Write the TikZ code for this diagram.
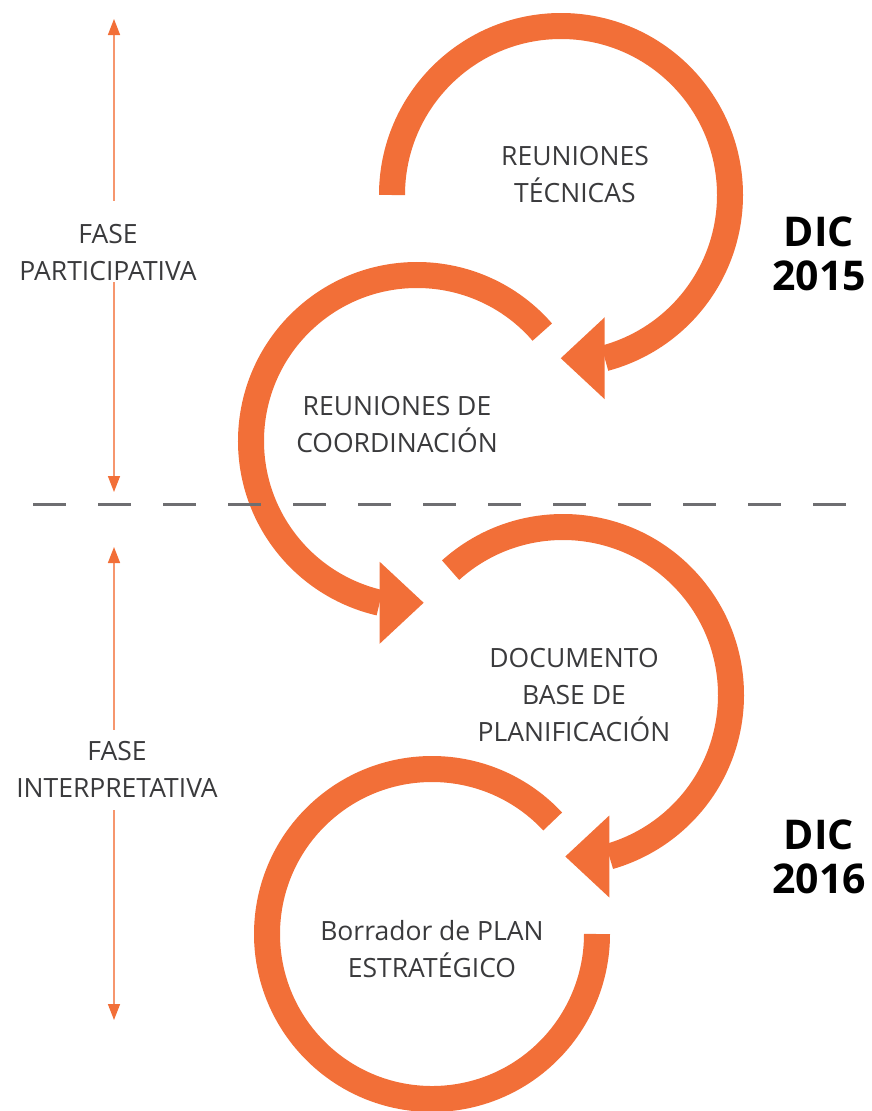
\documentclass[tikz,border=0pt]{standalone}
\usepackage{fontspec}
\setmainfont{Open Sans}
\usepackage{xcolor}
\usepackage{tikz}
\usetikzlibrary{arrows.meta}
\definecolor{naranja}{RGB}{242,111,56}
\definecolor{naranjaclaro}{RGB}{246,150,110}
\definecolor{gristexto}{RGB}{58,58,60}
\definecolor{grislinea}{RGB}{110,110,113}

\tikzset{
	anillo/.style={draw=naranja, line width=26pt},
	punta/.style={fill=naranja},
	etiqueta/.style={align=center, text=gristexto, font=\fontsize{26.5}{37}\selectfont, inner sep=0pt},
	fecha/.style={align=center, text=black, font=\fontsize{41}{44}\selectfont\bfseries, inner sep=0pt},
	fase/.style={draw=naranjaclaro, line width=1.5pt, -{Triangle[length=16pt,width=12pt,color=naranja]}}
}

\begin{document}
\begin{tikzpicture}[x=1pt,y=1pt]
	\useasboundingbox (0,0) rectangle (872,-1111);
	% anillos con sus puntas
	\draw[anillo] (561,-195) ++(180:169pt) arc[start angle=180, end angle=-75, radius=169pt] coordinate (e1);
	\fill[punta] (e1) ++(0,41) -- ++(-44,-41) -- ++(44,-41) -- cycle;
	\draw[anillo] (417,-441) ++(41:166pt) arc[start angle=41, end angle=257, radius=166pt] coordinate (e2);
	\fill[punta] (e2) ++(0,41) -- ++(44,-41) -- ++(-44,-41) -- cycle;
	\draw[anillo] (563,-695) ++(132:168pt) arc[start angle=132, end angle=-74, radius=168pt] coordinate (e3);
	\fill[punta] (e3) ++(0,41) -- ++(-44,-41) -- ++(44,-41) -- cycle;
	\draw[anillo] (432,-934) ++(43:165pt) arc[start angle=43, end angle=360, radius=165pt];
	\node[etiqueta, anchor=base] (tecnicas) at (575,-202) {REUNIONES\\TÉCNICAS};
	\node[etiqueta, anchor=base] (coordinacion) at (397,-452) {REUNIONES DE\\COORDINACIÓN};
	\node[etiqueta, anchor=base] (documento) at (574,-741) {DOCUMENTO\\BASE DE\\PLANIFICACIÓN};
	\node[etiqueta, anchor=base] (borrador) at (432,-977) {Borrador de PLAN\\ESTRATÉGICO};
	\node[fecha, anchor=base] (dic15) at (819,-290) {DIC\\2015};
	\node[fecha, anchor=base] (dic16) at (819,-893) {DIC\\2016};
	% division entre fases
	\foreach \i in {0,...,12}
	{
		\pgfmathsetmacro{\xa}{33+65*\i};
		\draw[grislinea, line width=3pt] (\xa,-504) -- ++(33,0);
	}
	% fases
	\coordinate (p1arriba) at (114,-19);
	\coordinate (p1abajo) at (114,-492);
	\node[etiqueta, anchor=base] (fase1) at (108,-280) {FASE\\PARTICIPATIVA};
	\draw[fase, shorten <=23pt] (fase1.north -| p1arriba) -- (p1arriba);
	\draw[fase, shorten <=2pt] (fase1.south -| p1abajo) -- (p1abajo);
	\coordinate (p2arriba) at (114,-547);
	\coordinate (p2abajo) at (114,-1020);
	\node[etiqueta, anchor=base] (fase2) at (117,-797) {FASE\\INTERPRETATIVA};
	\draw[fase, shorten <=11pt] (fase2.north -| p2arriba) -- (p2arriba);
	\draw[fase, shorten <=13pt] (fase2.south -| p2abajo) -- (p2abajo);
\end{tikzpicture}
\end{document}
